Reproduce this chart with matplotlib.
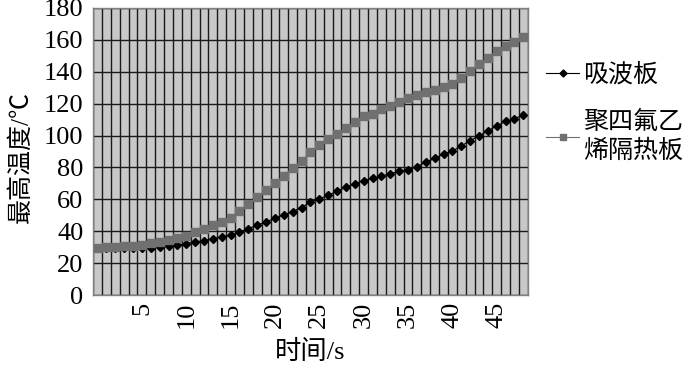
import numpy as np
import matplotlib.pyplot as plt
from matplotlib.ticker import MultipleLocator, FixedLocator

FONT = ['Liberation Serif', 'Noto Sans CJK SC', 'DejaVu Sans']
plt.rcParams['font.family'] = FONT

# time steps (category axis 0..48)
time_s = list(range(49))

# 吸波板 (black diamonds)
absorber = [29.6, 29.6, 29.7, 29.8, 29.5, 29.5, 29.8, 30.2, 30.9, 31.3,
            32.3, 33.4, 34.1, 35.4, 36.4, 37.5, 39.6, 41.7, 43.8, 45.9,
            48.2, 50.3, 52.4, 54.9, 58.4, 60.4, 62.5, 65.1, 67.6, 69.7,
            71.8, 73.1, 74.7, 76.0, 77.7, 78.5, 80.6, 83.2, 85.7, 88.4,
            90.3, 93.5, 96.8, 99.8, 102.9, 106.1, 108.8, 110.5, 113.1]

# 聚四氟乙烯隔热板 (gray squares)
ptfe = [29.8, 30.0, 30.2, 30.6, 31.0, 31.7, 32.8, 33.2, 34.5, 35.7,
        37.0, 39.4, 41.5, 43.8, 46.1, 48.6, 52.6, 56.8, 61.3, 65.7,
        70.1, 74.9, 79.8, 84.2, 89.4, 94.2, 97.9, 101.1, 104.8, 108.4,
        112.0, 113.7, 116.4, 118.5, 121.3, 123.4, 125.3, 127.0, 128.4, 130.3,
        132.2, 135.8, 140.4, 144.6, 148.6, 153.1, 156.2, 158.7, 161.5]

x_labels = [5, 10, 15, 20, 25, 30, 35, 40, 45]

fig = plt.figure(figsize=(7, 3.75), dpi=100)
ax = fig.add_axes([0.133, 0.213, 0.621, 0.766])
ax.set_facecolor("#c8c8c8")

ax.plot(time_s, absorber, color="#000000", lw=0.8, marker="D", ms=4.2,
        label="吸波板", zorder=3)
ax.plot(time_s, ptfe, color="#707070", lw=0.8, marker="s", ms=5.2,
        label="聚四氟乙\n烯隔热板", zorder=4)

ax.set_xlim(-0.5, 48.5)
ax.set_ylim(0, 180)

# gridlines at category boundaries, horizontal every 20
ax.xaxis.set_minor_locator(FixedLocator(np.arange(-0.5, 49, 1)))
ax.xaxis.set_major_locator(FixedLocator(x_labels))
ax.yaxis.set_major_locator(MultipleLocator(20))
ax.grid(True, which="minor", axis="x", color="#1a1a1a", lw=1.0)
ax.grid(True, which="major", axis="y", color="#1a1a1a", lw=1.0)
ax.set_axisbelow(True)

ax.set_xticklabels([str(v) for v in x_labels], rotation=90, fontsize=19,
                   family=FONT)
for t in ax.get_yticklabels():
    t.set_family(FONT)
ax.tick_params(axis="x", which="both", length=0, pad=5)
ax.tick_params(axis="y", length=0, labelsize=19, pad=7)

for sp in ax.spines.values():
    sp.set_color("#808080")
    sp.set_linewidth(1.0)

ax.set_xlabel("时间/s", fontsize=19, labelpad=8, family=FONT)
ax.set_ylabel("最高温度/℃", fontsize=18, family=FONT)
ax.yaxis.set_label_coords(-0.14, 0.48)

leg = ax.legend(loc="upper left", bbox_to_anchor=(1.02, 0.84), frameon=False,
                prop={"family": FONT, "size": 18}, handlelength=1.3,
                handletextpad=0.15, labelspacing=0.95, borderaxespad=0,
                markerscale=0.85)
for t in leg.get_texts():
    t.set_linespacing(1.3)

fig.savefig("out.png", dpi=100)
